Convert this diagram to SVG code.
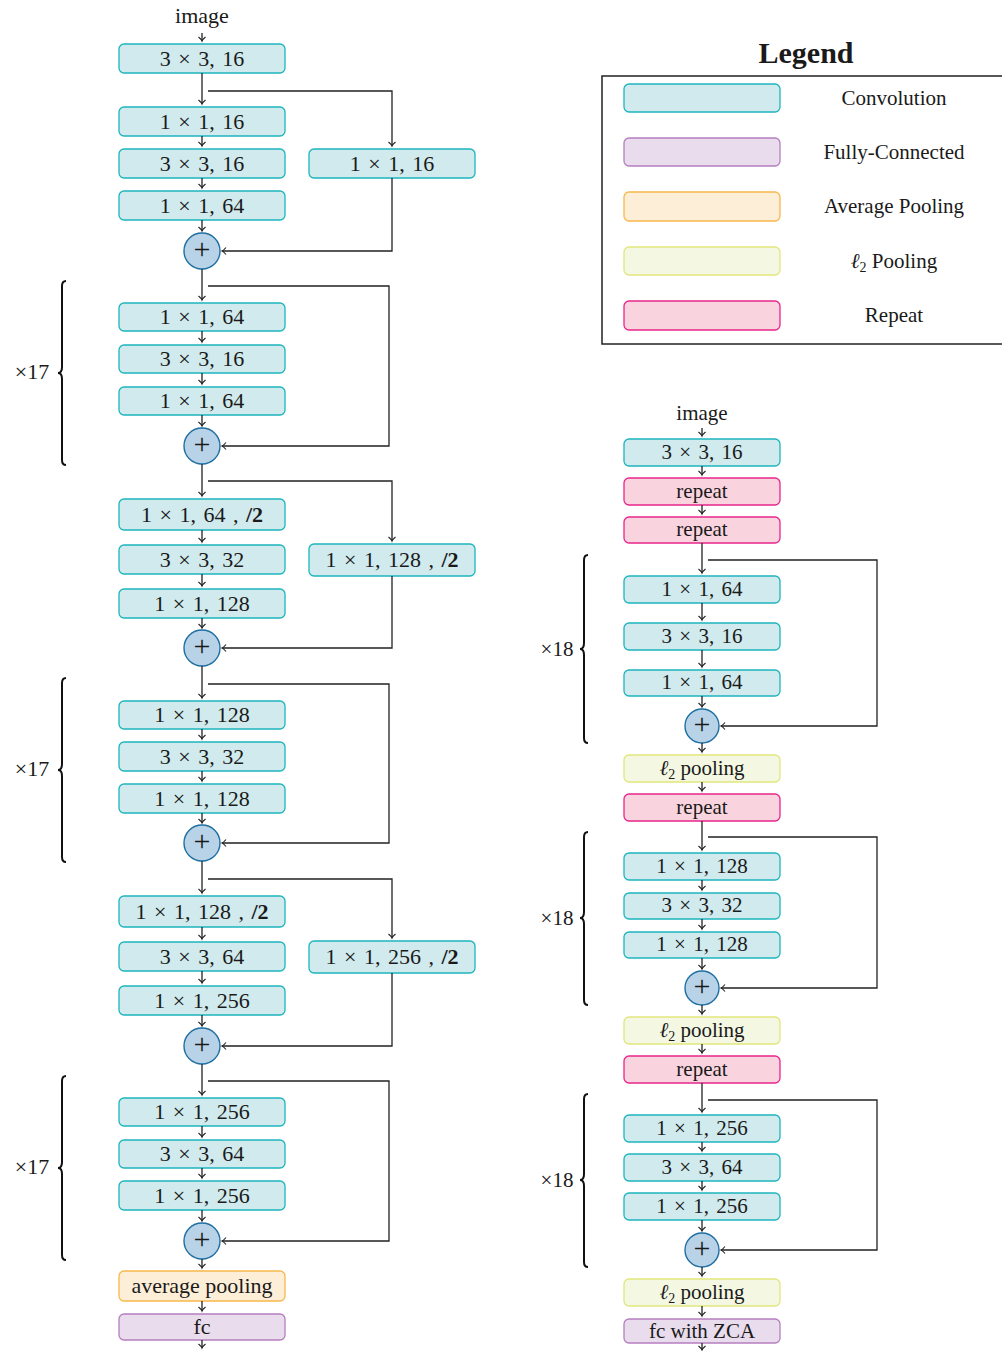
<svg xmlns="http://www.w3.org/2000/svg" width="1002" height="1351" viewBox="0 0 1002 1351">
<style>
text{font-family:"Liberation Serif","DejaVu Serif",serif;fill:#1a1a1a;text-anchor:middle}
.L text{font-size:22px;word-spacing:2px}
.R text{font-size:21px;word-spacing:2px}
.L text.t,.R text.t{word-spacing:0}
.L text.pl,.R text.pl{font-size:30px}
.conv{fill:#d0eaed;stroke:#1db5be;stroke-width:1.3}
.fc{fill:#e9dcec;stroke:#b57fc0;stroke-width:1.3}
.avg{fill:#fdeed8;stroke:#f7b84c;stroke-width:1.3}
.l2{fill:#f4f8e2;stroke:#e1e67c;stroke-width:1.3}
.rep{fill:#f9d4df;stroke:#e8268c;stroke-width:1.3}
.plus{fill:#b8d3e8;stroke:#1f6fa2;stroke-width:1.4}
.e{fill:none;stroke:#222;stroke-width:1.3;marker-end:url(#ah)}
.br{fill:none;stroke:#111;stroke-width:2}
.lg{font-size:21px}
</style>
<defs>
<marker id="ah" viewBox="-6 -5 8 10" refX="0" refY="0" markerWidth="8" markerHeight="10" markerUnits="userSpaceOnUse" orient="auto">
<path d="M-4,-3.5 Q-1.5,-0.5 0,0 Q-1.5,0.5 -4,3.5" fill="none" stroke="#222" stroke-width="1.1"/>
</marker>
</defs>

<!-- Legend -->
<g id="legend">
<text x="806" y="63" style="font-size:30px;font-weight:bold">Legend</text>
<rect x="602" y="76" width="420" height="268" fill="none" stroke="#222" stroke-width="1.5"/>
<rect class="conv" x="624" y="84" width="156" height="28" rx="5"/>
<text class="lg" x="894" y="105">Convolution</text>
<rect class="fc" x="624" y="138" width="156" height="28" rx="5"/>
<text class="lg" x="894" y="159">Fully-Connected</text>
<rect class="avg" x="624" y="192" width="156" height="29" rx="5"/>
<text class="lg" x="894" y="213">Average Pooling</text>
<rect class="l2" x="624" y="247" width="156" height="28" rx="5"/>
<text class="lg" x="894" y="268"><tspan font-style="italic">ℓ</tspan><tspan font-size="14" dy="4">2</tspan><tspan dy="-4"> Pooling</tspan></text>
<rect class="rep" x="624" y="301" width="156" height="29" rx="5"/>
<text class="lg" x="894" y="322">Repeat</text>
</g>

<!-- Left network -->
<g class="L">
<text id="l-image" class="t" x="202" y="23">image</text>
<g id="l1"><rect class="conv" x="119" y="44" width="166" height="29" rx="5"/><text x="202" y="66">3 × 3, 16</text></g>
<g id="l2"><rect class="conv" x="119" y="107" width="166" height="29" rx="5"/><text x="202" y="129">1 × 1, 16</text></g>
<g id="l3"><rect class="conv" x="119" y="149" width="166" height="29" rx="5"/><text x="202" y="171">3 × 3, 16</text></g>
<g id="l4"><rect class="conv" x="119" y="191" width="166" height="29" rx="5"/><text x="202" y="213">1 × 1, 64</text></g>
<g id="ls1"><rect class="conv" x="309" y="149" width="166" height="29" rx="5"/><text x="392" y="171">1 × 1, 16</text></g>
<g id="lp1"><circle class="plus" cx="202" cy="251" r="18"/><text class="pl" x="202" y="259">+</text></g>

<g id="l5"><rect class="conv" x="119" y="303" width="166" height="28" rx="5"/><text x="202" y="324">1 × 1, 64</text></g>
<g id="l6"><rect class="conv" x="119" y="345" width="166" height="28" rx="5"/><text x="202" y="366">3 × 3, 16</text></g>
<g id="l7"><rect class="conv" x="119" y="387" width="166" height="28" rx="5"/><text x="202" y="408">1 × 1, 64</text></g>
<g id="lp2"><circle class="plus" cx="202" cy="446" r="18"/><text class="pl" x="202" y="454">+</text></g>

<g id="l8"><rect class="conv" x="119" y="499" width="166" height="31" rx="5"/><text x="202" y="522">1 × 1, 64 , <tspan font-weight="bold">/2</tspan></text></g>
<g id="l9"><rect class="conv" x="119" y="545" width="166" height="29" rx="5"/><text x="202" y="567">3 × 3, 32</text></g>
<g id="l10"><rect class="conv" x="119" y="589" width="166" height="29" rx="5"/><text x="202" y="611">1 × 1, 128</text></g>
<g id="ls2"><rect class="conv" x="309" y="544" width="166" height="32" rx="5"/><text x="392" y="567">1 × 1, 128 , <tspan font-weight="bold">/2</tspan></text></g>
<g id="lp3"><circle class="plus" cx="202" cy="648" r="18"/><text class="pl" x="202" y="656">+</text></g>

<g id="l11"><rect class="conv" x="119" y="701" width="166" height="28" rx="5"/><text x="202" y="722">1 × 1, 128</text></g>
<g id="l12"><rect class="conv" x="119" y="742" width="166" height="29" rx="5"/><text x="202" y="764">3 × 3, 32</text></g>
<g id="l13"><rect class="conv" x="119" y="784" width="166" height="29" rx="5"/><text x="202" y="806">1 × 1, 128</text></g>
<g id="lp4"><circle class="plus" cx="202" cy="843" r="18"/><text class="pl" x="202" y="851">+</text></g>

<g id="l14"><rect class="conv" x="119" y="896" width="166" height="31" rx="5"/><text x="202" y="919">1 × 1, 128 , <tspan font-weight="bold">/2</tspan></text></g>
<g id="l15"><rect class="conv" x="119" y="942" width="166" height="29" rx="5"/><text x="202" y="964">3 × 3, 64</text></g>
<g id="l16"><rect class="conv" x="119" y="986" width="166" height="29" rx="5"/><text x="202" y="1008">1 × 1, 256</text></g>
<g id="ls3"><rect class="conv" x="309" y="941" width="166" height="32" rx="5"/><text x="392" y="964">1 × 1, 256 , <tspan font-weight="bold">/2</tspan></text></g>
<g id="lp5"><circle class="plus" cx="202" cy="1046" r="18"/><text class="pl" x="202" y="1054">+</text></g>

<g id="l17"><rect class="conv" x="119" y="1098" width="166" height="28" rx="5"/><text x="202" y="1119">1 × 1, 256</text></g>
<g id="l18"><rect class="conv" x="119" y="1140" width="166" height="28" rx="5"/><text x="202" y="1161">3 × 3, 64</text></g>
<g id="l19"><rect class="conv" x="119" y="1181" width="166" height="29" rx="5"/><text x="202" y="1203">1 × 1, 256</text></g>
<g id="lp6"><circle class="plus" cx="202" cy="1241" r="18"/><text class="pl" x="202" y="1249">+</text></g>

<g id="lavg"><rect class="avg" x="119" y="1271" width="166" height="30" rx="5"/><text class="t" x="202" y="1293">average pooling</text></g>
<g id="lfc"><rect class="fc" x="119" y="1314" width="166" height="26" rx="5"/><text class="t" x="202" y="1334">fc</text></g>

<g id="lbraces">
<path class="br" d="M66,281 Q62,281 62,286 L62,367 Q62,373 58,373 Q62,373 62,379 L62,460 Q62,465 66,465"/>
<text x="32" y="379">×17</text>
<path class="br" d="M66,678 Q62,678 62,683 L62,764 Q62,770 58,770 Q62,770 62,776 L62,857 Q62,862 66,862"/>
<text x="32" y="776">×17</text>
<path class="br" d="M66,1076 Q62,1076 62,1081 L62,1162 Q62,1168 58,1168 Q62,1168 62,1174 L62,1255 Q62,1260 66,1260"/>
<text x="32" y="1174">×17</text>
</g>
</g>

<!-- Right network -->
<g class="R">
<text id="r-image" class="t" x="702" y="420">image</text>
<g id="r1"><rect class="conv" x="624" y="439" width="156" height="27" rx="5"/><text x="702" y="459">3 × 3, 16</text></g>
<g id="r2"><rect class="rep" x="624" y="478" width="156" height="27" rx="5"/><text class="t" x="702" y="498">repeat</text></g>
<g id="r3"><rect class="rep" x="624" y="517" width="156" height="26" rx="5"/><text class="t" x="702" y="536">repeat</text></g>
<g id="r4"><rect class="conv" x="624" y="576" width="156" height="27" rx="5"/><text x="702" y="596">1 × 1, 64</text></g>
<g id="r5"><rect class="conv" x="624" y="623" width="156" height="27" rx="5"/><text x="702" y="643">3 × 3, 16</text></g>
<g id="r6"><rect class="conv" x="624" y="670" width="156" height="26" rx="5"/><text x="702" y="689">1 × 1, 64</text></g>
<g id="rp1"><circle class="plus" cx="702" cy="726" r="17"/><text class="pl" x="702" y="734">+</text></g>
<g id="r7"><rect class="l2" x="624" y="755" width="156" height="27" rx="5"/><text class="t" x="702" y="775"><tspan font-style="italic">ℓ</tspan><tspan font-size="14" dy="4">2</tspan><tspan dy="-4"> pooling</tspan></text></g>
<g id="r8"><rect class="rep" x="624" y="794" width="156" height="27" rx="5"/><text class="t" x="702" y="814">repeat</text></g>
<g id="r9"><rect class="conv" x="624" y="853" width="156" height="27" rx="5"/><text x="702" y="873">1 × 1, 128</text></g>
<g id="r10"><rect class="conv" x="624" y="893" width="156" height="26" rx="5"/><text x="702" y="912">3 × 3, 32</text></g>
<g id="r11"><rect class="conv" x="624" y="932" width="156" height="26" rx="5"/><text x="702" y="951">1 × 1, 128</text></g>
<g id="rp2"><circle class="plus" cx="702" cy="988" r="17"/><text class="pl" x="702" y="996">+</text></g>
<g id="r12"><rect class="l2" x="624" y="1017" width="156" height="27" rx="5"/><text class="t" x="702" y="1037"><tspan font-style="italic">ℓ</tspan><tspan font-size="14" dy="4">2</tspan><tspan dy="-4"> pooling</tspan></text></g>
<g id="r13"><rect class="rep" x="624" y="1056" width="156" height="27" rx="5"/><text class="t" x="702" y="1076">repeat</text></g>
<g id="r14"><rect class="conv" x="624" y="1115" width="156" height="27" rx="5"/><text x="702" y="1135">1 × 1, 256</text></g>
<g id="r15"><rect class="conv" x="624" y="1154" width="156" height="27" rx="5"/><text x="702" y="1174">3 × 3, 64</text></g>
<g id="r16"><rect class="conv" x="624" y="1193" width="156" height="27" rx="5"/><text x="702" y="1213">1 × 1, 256</text></g>
<g id="rp3"><circle class="plus" cx="702" cy="1250" r="17"/><text class="pl" x="702" y="1258">+</text></g>
<g id="r17"><rect class="l2" x="624" y="1279" width="156" height="27" rx="5"/><text class="t" x="702" y="1299"><tspan font-style="italic">ℓ</tspan><tspan font-size="14" dy="4">2</tspan><tspan dy="-4"> pooling</tspan></text></g>
<g id="r18"><rect class="fc" x="624" y="1319" width="156" height="24" rx="5"/><text class="t" x="702" y="1338">fc with ZCA</text></g>

<g id="rbraces">
<path class="br" d="M588,555 Q584,555 584,560 L584,643 Q584,649 580,649 Q584,649 584,655 L584,738 Q584,743 588,743"/>
<text x="557" y="656">×18</text>
<path class="br" d="M588,832 Q584,832 584,837 L584,912 Q584,918 580,918 Q584,918 584,924 L584,1000 Q584,1005 588,1005"/>
<text x="557" y="925">×18</text>
<path class="br" d="M588,1094 Q584,1094 584,1099 L584,1174 Q584,1180 580,1180 Q584,1180 584,1186 L584,1262 Q584,1267 588,1267"/>
<text x="557" y="1187">×18</text>
</g>
</g>

<!-- Connectors -->
<g id="edges">
<path class="e" d="M202,33 V41"/>
<path class="e" d="M202,73 V104"/>
<path class="e" d="M208,91 H392 V146"/>
<path class="e" d="M202,136 V146"/>
<path class="e" d="M202,178 V188"/>
<path class="e" d="M202,220 V231"/>
<path class="e" d="M392,178 V251 H222"/>
<path class="e" d="M202,269 V300"/>
<path class="e" d="M208,286 H389 V446 H222"/>
<path class="e" d="M202,331 V342"/>
<path class="e" d="M202,373 V384"/>
<path class="e" d="M202,415 V426"/>
<path class="e" d="M202,464 V496"/>
<path class="e" d="M208,481 H392 V541"/>
<path class="e" d="M202,530 V542"/>
<path class="e" d="M202,574 V586"/>
<path class="e" d="M202,618 V628"/>
<path class="e" d="M392,576 V648 H222"/>
<path class="e" d="M202,666 V698"/>
<path class="e" d="M208,684 H389 V843 H222"/>
<path class="e" d="M202,729 V739"/>
<path class="e" d="M202,771 V781"/>
<path class="e" d="M202,813 V823"/>
<path class="e" d="M202,861 V893"/>
<path class="e" d="M208,879 H392 V938"/>
<path class="e" d="M202,927 V939"/>
<path class="e" d="M202,971 V983"/>
<path class="e" d="M202,1015 V1026"/>
<path class="e" d="M392,973 V1046 H222"/>
<path class="e" d="M202,1064 V1095"/>
<path class="e" d="M208,1081 H389 V1241 H222"/>
<path class="e" d="M202,1126 V1137"/>
<path class="e" d="M202,1168 V1178"/>
<path class="e" d="M202,1210 V1221"/>
<path class="e" d="M202,1259 V1268"/>
<path class="e" d="M202,1301 V1311"/>
<path class="e" d="M202,1340 V1348"/>

<path class="e" d="M702,428 V436"/>
<path class="e" d="M702,466 V475"/>
<path class="e" d="M702,505 V514"/>
<path class="e" d="M702,543 V573"/>
<path class="e" d="M708,560 H877 V726 H721"/>
<path class="e" d="M702,603 V620"/>
<path class="e" d="M702,650 V667"/>
<path class="e" d="M702,696 V707"/>
<path class="e" d="M702,743 V752"/>
<path class="e" d="M702,782 V791"/>
<path class="e" d="M702,821 V850"/>
<path class="e" d="M708,837 H877 V988 H721"/>
<path class="e" d="M702,880 V890"/>
<path class="e" d="M702,919 V929"/>
<path class="e" d="M702,958 V969"/>
<path class="e" d="M702,1005 V1014"/>
<path class="e" d="M702,1044 V1053"/>
<path class="e" d="M702,1083 V1112"/>
<path class="e" d="M708,1100 H877 V1250 H721"/>
<path class="e" d="M702,1142 V1151"/>
<path class="e" d="M702,1181 V1190"/>
<path class="e" d="M702,1220 V1231"/>
<path class="e" d="M702,1267 V1276"/>
<path class="e" d="M702,1306 V1316"/>
<path class="e" d="M702,1343 V1350"/>
</g>
</svg>
